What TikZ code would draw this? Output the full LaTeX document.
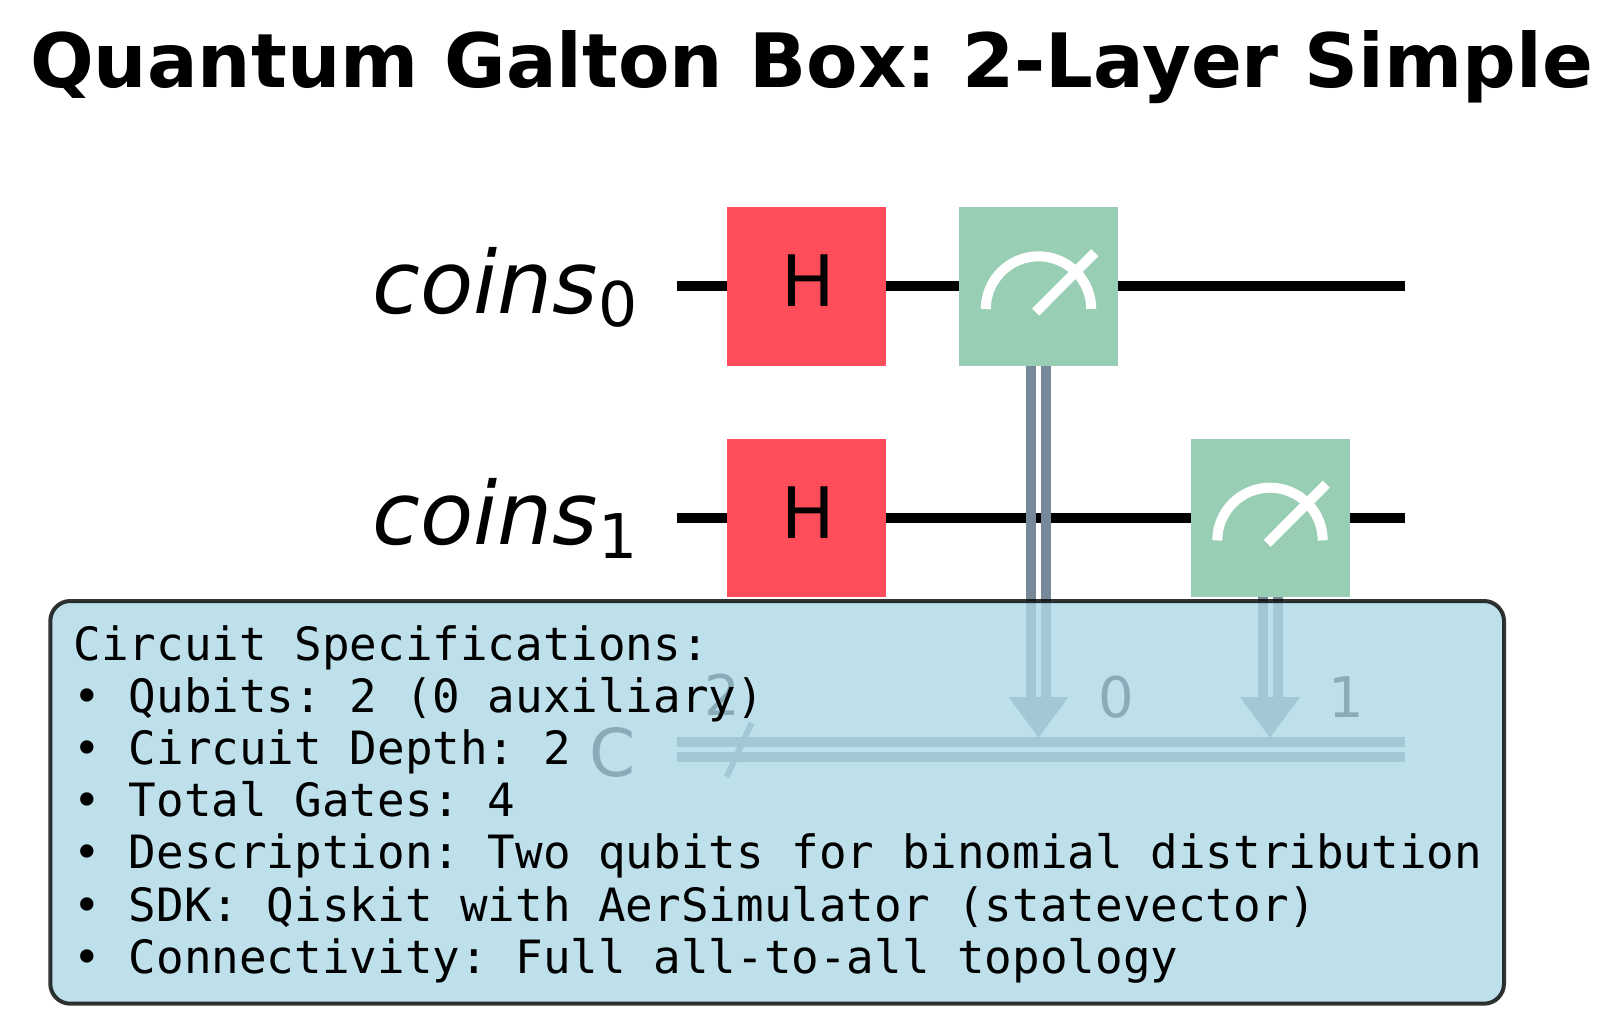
\documentclass[tikz,border=0pt]{standalone}
\usepackage{fontspec}
\setmainfont{DejaVu Sans}
\newfontfamily\monof{DejaVu Sans Mono}
\usetikzlibrary{calc}
\definecolor{redg}{HTML}{FF4D5A}
\definecolor{greeng}{HTML}{98CEB4}
\definecolor{clw}{HTML}{778899}
\definecolor{boxfill}{HTML}{ADD8E6}
\tikzset{x=1pt,y=-1pt,
 gate/.style={minimum width=159pt,minimum height=158.5pt,inner sep=0pt,outer sep=0pt},
 hgate/.style={gate,fill=redg},
 hlabel/.style={anchor=base,inner sep=0pt,font=\fontsize{71}{71}\selectfont},
 mgate/.style={gate,fill=greeng},
 qw/.style={line width=10pt,black},
 cw/.style={line width=10pt,clw},
 reg/.style={anchor=base east,inner sep=0pt,font=\fontsize{87}{87}\selectfont},
 creg/.style={anchor=base,inner sep=0pt,font=\fontsize{56}{56}\selectfont},
 dial/.style={white,line width=10pt},
 infobox/.style={draw=black,line width=4pt,fill=boxfill,rounded corners=20pt,opacity=0.8}}
\newcommand{\regname}[2]{\textit{#1}\raisebox{-13.3pt}{\fontsize{61.6}{61.6}\selectfont #2}}
\begin{document}
\begin{tikzpicture}
\useasboundingbox (0,0) rectangle (1622,1011);
\node[inner sep=0pt,font=\fontsize{75}{75}\selectfont\bfseries\frenchspacing,anchor=base] (title) at (811.5,88) {Quantum Galton Box: 2-Layer Simple};
\coordinate (q0s) at (677,286); \coordinate (q0e) at (1405,286);
\coordinate (q1s) at (677,518); \coordinate (q1e) at (1405,518);
\coordinate (c0s) at (677,742); \coordinate (c0e) at (1405,742);
\coordinate (c1s) at (677,757); \coordinate (c1e) at (1405,757);
\coordinate (sl0) at (751.7,723); \coordinate (sl1) at (726.7,776.7);
\node[reg] (l0) at (637.5,313) {\regname{coins}{0}};
\node[reg] (l1) at (637.5,544.7) {\regname{coins}{1}};
\draw[qw] (q0s) -- (q0e);
\draw[qw] (q1s) -- (q1e);
\node[hgate] (h0) at (806.5,286.4) {};
\node[hgate] (h1) at (806.5,517.8) {};
\node[hlabel] (ht0) at ($(h0)+(2,20.5)$) {H};
\node[hlabel] (ht1) at ($(h1)+(2,20.5)$) {H};
\node[mgate] (m0) at (1038.5,286.4) {};
\node[mgate] (m1) at (1270,517.8) {};
\foreach \m in {m0,m1}{
 \draw[dial] ($(\m)+(-52.7,22.6)$) arc[start angle=180,end angle=360,radius=52.7];
 \draw[dial] ($(\m)+(-2.8,25.6)$) -- ($(\m)+(56.3,-33.7)$);
}
\foreach \m in {m0,m1}{
 \coordinate (base) at (\m |- 0,697);
 \coordinate (tip) at (\m |- 0,737.7);
 \draw[cw] ($(\m.south)+(-7.5,0)$) -- ($(base)+(-7.5,0)$);
 \draw[cw] ($(\m.south)+(7.5,0)$) -- ($(base)+(7.5,0)$);
 \fill[clw] ($(base)+(-30,0)$) -- ($(base)+(30,0)$) -- (tip) -- cycle;
}
\draw[cw] (c0s) -- (c0e);
\draw[cw] (c1s) -- (c1e);
\draw[clw,line width=6pt] (sl0) -- (sl1);
\node[creg,font=\fontsize{66}{66}\selectfont] (cname) at (612.5,776) {C};
\node[creg] (n2) at (722,715) {2};
\node[creg] (n0) at (1116.2,717.5) {0};
\node[creg] (n1) at (1346.4,717.5) {1};
\draw[infobox] (50.3,601) rectangle (1504,1003.7);
\node[anchor=north west,inner sep=0pt,align=left,font=\monof\fontsize{45.87}{52.2}\selectfont\frenchspacing] (specs) at (73.5,625) {Circuit Specifications:\\
• Qubits: 2 (0 auxiliary)\\
• Circuit Depth: 2\\
• Total Gates: 4\\
• Description: Two qubits for binomial distribution\\
• SDK: Qiskit with AerSimulator (statevector)\\
• Connectivity: Full all-to-all topology};
\end{tikzpicture}
\end{document}
